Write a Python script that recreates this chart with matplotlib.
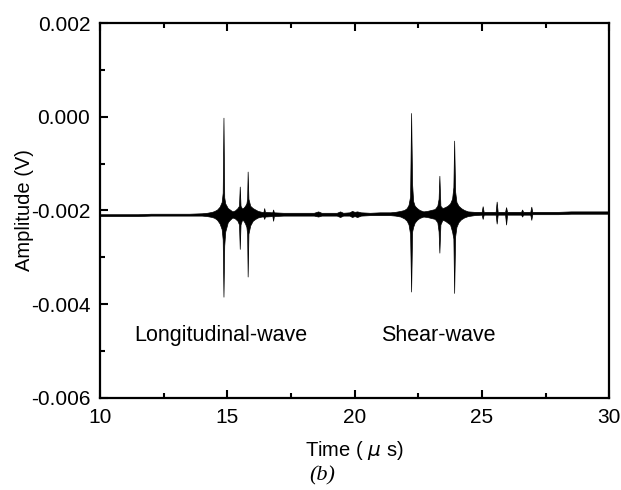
# ultrasonic echo trace: longitudinal and shear wave arrivals

import numpy as np
import matplotlib.pyplot as plt

# envelope of the recorded trace, amplitude in mV (converted to V for plotting)
time_us = [10.0, 10.5, 11.0, 11.5, 12.0, 12.5, 13.0, 13.5, 14.0, 14.2, 14.4, 14.5, 14.6, 14.7,
           14.78, 14.82, 14.85, 14.88, 14.92, 14.97, 15.02, 15.1, 15.2, 15.3, 15.4, 15.46, 15.49,
           15.52, 15.58, 15.64, 15.7, 15.75, 15.78, 15.8, 15.83, 15.9, 16.0, 16.1, 16.2, 16.35, 16.42, 16.45,
           16.48, 16.77, 16.8, 16.83, 17.2, 17.6, 18.0, 18.4, 18.57, 18.7, 19.0, 19.3, 19.43,
           19.55, 19.8, 19.9, 20.0, 20.1, 20.25, 20.6, 21.0, 21.4, 21.6, 21.8, 21.95, 22.05,
           22.12, 22.18, 22.22, 22.26, 22.3, 22.36, 22.45, 22.55, 22.7, 22.85, 23.0, 23.15,
           23.25, 23.3, 23.33, 23.37, 23.45, 23.55, 23.65, 23.75, 23.83, 23.88, 23.91, 23.95,
           24.0, 24.08, 24.18, 24.3, 24.45, 24.7, 24.99, 25.03, 25.07, 25.54, 25.58, 25.62,
           25.91, 25.95, 25.99, 26.54, 26.58, 26.62, 26.9, 26.94, 26.98, 27.5, 28.0, 28.5,
           29.0, 29.5, 30.0]
upper_mV = [-2.08, -2.08, -2.08, -2.08, -2.07, -2.07, -2.07, -2.07, -2.06, -2.05, -2.03, -2.01, -1.98, -1.92,
            -1.82, -1.62, -0.02, -1.72, -1.85, -1.90, -1.95, -1.98, -2.02, -2.00, -1.95, -1.90, -1.49,
            -1.90, -1.96, -1.94, -1.90, -1.85, -1.75, -1.17, -1.75, -1.90, -1.95, -1.98, -2.01, -2.03, -2.03, -1.95,
            -2.03, -2.04, -1.98, -2.04, -2.05, -2.05, -2.05, -2.05, -2.02, -2.05, -2.05, -2.05, -2.02,
            -2.05, -2.04, -2.01, -2.03, -2.02, -2.04, -2.05, -2.04, -2.04, -2.03, -2.01, -1.99, -1.95,
            -1.88, -1.70, 0.08, -1.45, -1.80, -1.90, -1.95, -1.99, -2.02, -2.01, -1.99, -1.97,
            -1.90, -1.75, -1.26, -1.90, -1.95, -1.93, -1.90, -1.85, -1.75, -1.50, -0.51, -1.60,
            -1.82, -1.90, -1.95, -1.99, -2.02, -2.03, -2.03, -1.91, -2.03, -2.03, -1.81, -2.03,
            -2.03, -1.93, -2.03, -2.03, -1.98, -2.03, -2.03, -1.92, -2.03, -2.03, -2.03, -2.02,
            -2.02, -2.02, -2.02]
lower_mV = [-2.12, -2.12, -2.12, -2.12, -2.11, -2.11, -2.11, -2.11, -2.11, -2.12, -2.14, -2.16, -2.20, -2.28,
            -2.40, -2.62, -3.84, -2.75, -2.45, -2.35, -2.25, -2.20, -2.15, -2.17, -2.22, -2.30, -2.82,
            -2.30, -2.20, -2.22, -2.28, -2.35, -2.50, -3.41, -2.50, -2.32, -2.22, -2.18, -2.15, -2.13, -2.13, -2.18,
            -2.13, -2.12, -2.22, -2.12, -2.11, -2.11, -2.11, -2.11, -2.13, -2.11, -2.11, -2.11, -2.14,
            -2.11, -2.11, -2.14, -2.12, -2.14, -2.11, -2.10, -2.10, -2.10, -2.11, -2.13, -2.17, -2.22,
            -2.30, -2.50, -3.73, -2.45, -2.35, -2.26, -2.20, -2.16, -2.13, -2.14, -2.16, -2.18,
            -2.25, -2.45, -2.90, -2.30, -2.20, -2.22, -2.26, -2.30, -2.45, -2.60, -3.76, -2.55,
            -2.35, -2.25, -2.19, -2.15, -2.12, -2.10, -2.09, -2.18, -2.09, -2.09, -2.28, -2.09,
            -2.09, -2.30, -2.09, -2.09, -2.13, -2.09, -2.09, -2.20, -2.08, -2.08, -2.08, -2.07,
            -2.07, -2.07, -2.07]

t = np.array(time_us)
hi = np.array(upper_mV) * 1e-3
lo = np.array(lower_mV) * 1e-3

plt.rcParams['font.family'] = ['Liberation Sans', 'DejaVu Sans']

fig = plt.figure(figsize=(6.21, 4.90), dpi=100)
ax = fig.add_axes([0.161, 0.188, 0.820, 0.765])

ax.fill_between(t, lo, hi, color='black', lw=0.5)

ax.set_xlim(10, 30)
ax.set_ylim(-0.006, 0.002)
ax.set_xticks([10, 15, 20, 25, 30])
ax.set_xticks([12.5, 17.5, 22.5, 27.5], minor=True)
ax.set_yticks([-0.006, -0.004, -0.002, 0.000, 0.002])
ax.set_yticklabels(['-0.006', '-0.004', '-0.002', '0.000', '0.002'])
ax.set_yticks([-0.005, -0.003, -0.001, 0.001], minor=True)

for s in ax.spines.values():
    s.set_linewidth(1.6)
ax.tick_params(which='both', direction='in', top=True, right=False, width=1.5, labelsize=15)
ax.tick_params(which='major', length=6, pad=7)
ax.tick_params(which='minor', length=3.5)

ax.set_xlabel('Time ( $\\mu$ s)', fontsize=14.5, labelpad=9)
ax.set_ylabel('Amplitude (V)', fontsize=14.5, labelpad=-2)

ax.text(11.35, -0.00467, 'Longitudinal-wave', fontsize=15.5, va='center')
ax.text(21.05, -0.00467, 'Shear-wave', fontsize=15.5, va='center')

fig.text(0.518, 0.02, '(b)', fontsize=16, family='Liberation Serif', style='italic', ha='center')

fig.savefig('out.png', dpi=100)
